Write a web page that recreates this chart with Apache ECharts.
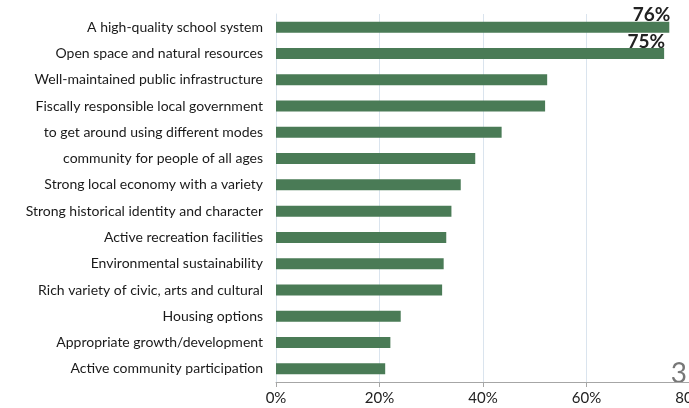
<!DOCTYPE html>
<html>
<head>
<meta charset="utf-8">
<script src="https://cdn.jsdelivr.net/npm/echarts@6/dist/echarts.min.js"></script>
<style>
  html, body { margin: 0; padding: 0; background: #fff; }
  #chart { width: 689px; height: 408px; }
</style>
</head>
<body>
<div id="chart"></div>
<script>
// categories, top to bottom
const categories = [
  'A high-quality school system',
  'Open space and natural resources',
  'Well-maintained public infrastructure',
  'Fiscally responsible local government',
  'to get around using different modes',
  'community for people of all ages',
  'Strong local economy with a variety',
  'Strong historical identity and character',
  'Active recreation facilities',
  'Environmental sustainability',
  'Rich variety of civic, arts and cultural',
  'Housing options',
  'Appropriate growth/development',
  'Active community participation'
];
// percent of respondents
const values = [76, 75, 52.4, 52, 43.6, 38.5, 35.7, 33.9, 32.9, 32.4, 32.1, 24.1, 22.1, 21.1];
// which bars carry a value label
const showLabel = [true, true, false, false, false, false, false, false, false, false, false, false, false, false];
const xTicks = [0, 20, 40, 60, 80];

const chart = echarts.init(document.getElementById('chart'));

const seriesData = values.map((v, i) => ({
  value: v,
  label: { show: showLabel[i] }
}));

const option = {
  animation: false,
  grid: {
    left: 276, right: -1, top: 14, bottom: 26,
    containLabel: false,
    outerBoundsMode: 'none'
  },
  xAxis: {
    type: 'value',
    min: xTicks[0],
    max: xTicks[xTicks.length - 1],
    interval: 20,
    axisLine: { show: true, lineStyle: { color: '#a6a6a6', width: 1 } },
    axisTick: { show: true, length: 5, lineStyle: { color: '#a6a6a6' } },
    axisLabel: {
      formatter: '{value}%',
      color: '#222',
      fontFamily: 'Lato',
      fontSize: 15,
      margin: 9
    },
    splitLine: { show: true, lineStyle: { color: '#dae4ee', width: 1 } }
  },
  yAxis: {
    type: 'category',
    inverse: true,
    data: categories,
    axisLine: { show: true, lineStyle: { color: '#dae4ee' } },
    axisTick: { show: false },
    axisLabel: {
      color: '#1a1a1a',
      fontFamily: 'Lato',
      fontSize: 14,
      margin: 13
    }
  },
  series: [{
    type: 'bar',
    data: seriesData,
    barWidth: 11,
    itemStyle: { color: '#4a7b56' },
    label: {
      position: ['100%', 0],
      align: 'right',
      verticalAlign: 'bottom',
      offset: [1, 3],
      formatter: '{c}%',
      color: '#222',
      fontFamily: 'Lato',
      fontWeight: 'bold',
      fontSize: 19
    }
  }],
  graphic: [{
    type: 'text',
    right: 2,
    top: 360,
    style: { text: '3', fill: '#777', font: '28px Lato' }
  }]
};

chart.setOption(option);
</script>
</body>
</html>
